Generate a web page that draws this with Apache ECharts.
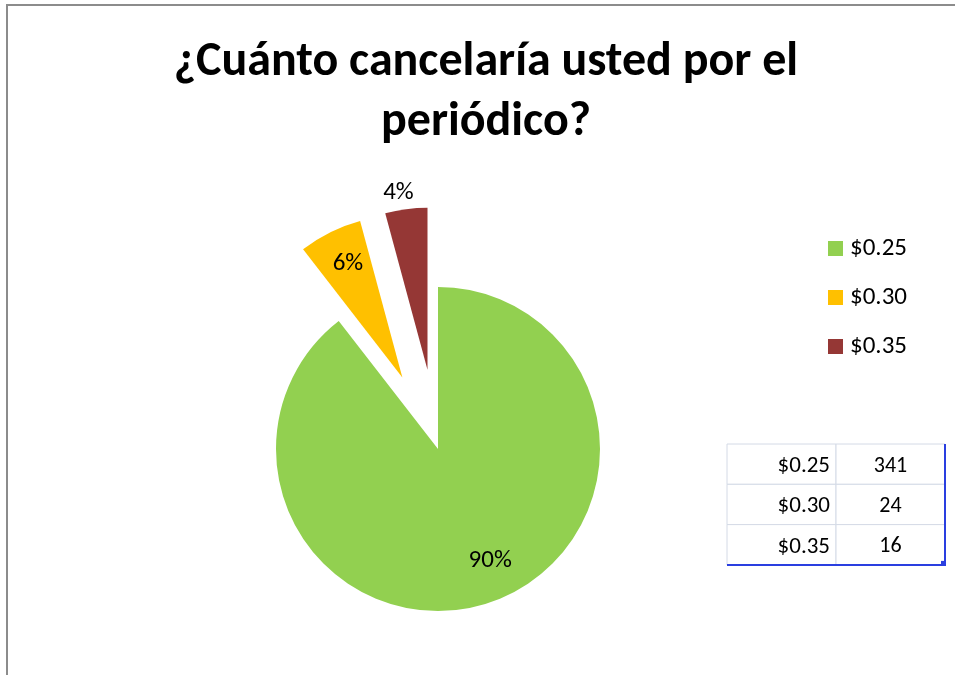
<!DOCTYPE html>
<html>
<head>
<meta charset="utf-8">
<script src="https://cdn.jsdelivr.net/npm/echarts@6/dist/echarts.min.js"></script>
<style>
html,body{margin:0;padding:0;background:#fff;}
#chart{width:955px;height:675px;}
</style>
</head>
<body>
<div id="chart"></div>
<script>
// ---- data ----
const titleText = '¿Cuánto cancelaría usted por el\nperiódico?';
const categories = ['$0.25', '$0.30', '$0.35'];
const counts = [341, 24, 16];
const exploded = [false, true, true];

// ---- styling (not data) ----
const colors = ['#92d050', '#ffc000', '#953735'];
const labelShift = [[25, 32], [-17, -38], [-18, -94]];
const FONT = 'Carlito, Lato, "Open Sans", sans-serif';

const chart = echarts.init(document.getElementById('chart'), null, {renderer: 'canvas'});

const pieData = categories.map((c, i) => ({
  name: c,
  value: counts[i],
  selected: exploded[i],
  itemStyle: {color: colors[i]},
  select: {itemStyle: {color: colors[i]}}
}));

// table cells built from the arrays
const tblX = 727, tblY = 444, colW = 109, rowH = 40.3;
const tableEls = [];
categories.forEach((c, i) => {
  const y = tblY + i * rowH;
  tableEls.push({type: 'rect', shape: {x: tblX, y: y, width: colW, height: rowH},
    style: {fill: '#fff', stroke: '#d4dae6', lineWidth: 1}});
  tableEls.push({type: 'rect', shape: {x: tblX + colW, y: y, width: colW, height: rowH},
    style: {fill: '#fff', stroke: '#d4dae6', lineWidth: 1}});
  tableEls.push({type: 'text', style: {text: c, x: tblX + colW - 6, y: y + rowH / 2 + 2,
    align: 'right', verticalAlign: 'middle', font: '23px ' + FONT, fill: '#000'}});
  tableEls.push({type: 'text', style: {text: String(counts[i]), x: tblX + colW * 1.5, y: y + rowH / 2 + 2,
    align: 'center', verticalAlign: 'middle', font: '22px ' + FONT, fill: '#000'}});
});
const tblW = colW * 2, tblH = rowH * categories.length;
tableEls.push({type: 'line', shape: {x1: tblX + tblW, y1: tblY, x2: tblX + tblW, y2: tblY + tblH},
  style: {stroke: '#2a3fe0', lineWidth: 2}});
tableEls.push({type: 'line', shape: {x1: tblX, y1: tblY + tblH, x2: tblX + tblW + 1, y2: tblY + tblH},
  style: {stroke: '#2a3fe0', lineWidth: 2}});
tableEls.push({type: 'rect', shape: {x: tblX + tblW - 4, y: tblY + tblH - 4, width: 5, height: 5},
  style: {fill: '#2a3fe0'}});

const option = {
  animation: false,
  backgroundColor: '#fff',
  title: {
    text: titleText,
    left: 486,
    top: 33,
    padding: 0,
    textAlign: 'center',
    textStyle: {fontFamily: FONT, fontWeight: 'bold', fontSize: 48, lineHeight: 60, color: '#000'}
  },
  legend: {
    orient: 'vertical',
    left: 828,
    top: 236,
    padding: 0,
    itemWidth: 15,
    itemHeight: 15,
    itemGap: 24,
    icon: 'rect',
    selectedMode: false,
    textStyle: {fontFamily: FONT, fontSize: 25, color: '#000', padding: [0, 0, 0, 2]},
    data: categories
  },
  graphic: [
    {type: 'polyline', shape: {points: [[7, 680], [7, 5], [960, 5]]},
      style: {stroke: '#8c8c8c', lineWidth: 2, fill: null}, z: 0},
    {type: 'group', children: tableEls}
  ],
  series: [{
    type: 'pie',
    center: [438, 449],
    radius: 162,
    startAngle: 90,
    clockwise: true,
    selectedMode: 'multiple',
    selectedOffset: 80,
    percentPrecision: 0,
    avoidLabelOverlap: false,
    emphasis: {disabled: true, scale: false},
    label: {
      show: true,
      position: 'inside',
      formatter: '{d}%',
      fontFamily: FONT,
      fontSize: 25,
      color: '#000'
    },
    labelLine: {show: false},
    labelLayout: function (p) {
      const s = labelShift[p.dataIndex];
      return {dx: s[0], dy: s[1]};
    },
    data: pieData
  }]
};
chart.setOption(option);
</script>
</body>
</html>
